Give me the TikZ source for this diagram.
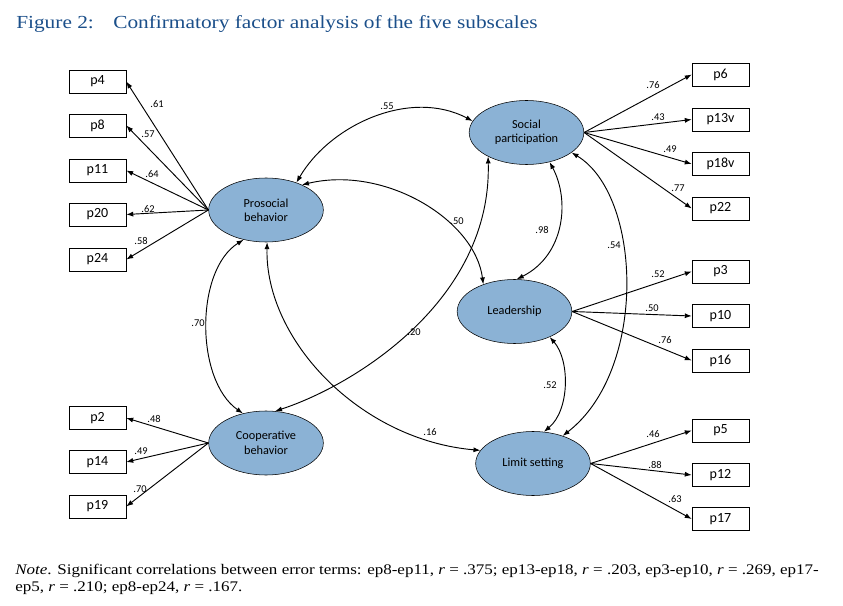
\documentclass[tikz,border=0pt]{standalone}
\usepackage{fontspec}
\setmainfont{Liberation Serif}[FakeStretch=1.16]
\setsansfont{Carlito}
\usepackage{xcolor}
\definecolor{figblue}{HTML}{1B4F8A}
\definecolor{latent}{HTML}{8BB2D5}
\usetikzlibrary{arrows.meta,shapes.geometric}
\tikzset{
  >={Latex[length=5.2pt,width=3.8pt]},
  item/.style  ={draw,fill=white,font=\sffamily\fontsize{10.5}{12}\selectfont,
                 minimum width=42.75pt,minimum height=17.25pt,inner sep=0pt},
  factor/.style={draw,fill=latent,ellipse,align=center,inner sep=0pt,
                 font=\sffamily\fontsize{9.2}{10.8}\selectfont,
                 minimum width=86pt,minimum height=48pt},
  lbl/.style   ={font=\sffamily\fontsize{7.8}{9}\selectfont,inner sep=1pt},
  load/.style  ={->,line width=0.7pt},
  corr/.style  ={<->,line width=0.7pt},
  caption/.style={anchor=base west,inner sep=0pt},
}

\begin{document}
\begin{tikzpicture}[x=0.75pt,y=-0.75pt]
\path[fill=white] (0,0) rectangle (843,606);
\useasboundingbox (0,0) rectangle (843,606);
\node[caption,text=figblue,font=\fontsize{13.8}{16}\selectfont] (fig) at (16,28.3) {Figure 2:};
\node[caption,text=figblue,font=\fontsize{13.8}{16}\selectfont] (title) at (113,28.3)
  {Confirmatory factor analysis of the five subscales};
% observed indicators
\foreach \n/\y in {p4/81.5,p8/125.5,p11/170.5,p20/214.5,p24/259.5,p2/418,p14/462,p19/506.5}
  \node[item] (\n) at (97.5,\y) {\n};
\foreach \n/\y in {p6/74.5,p13v/119.5,p18v/164,p22/208.5,p3/271.5,p10/316,p16/360.5,
                   p5/430.5,p12/475,p17/519}
  \node[item] (\n) at (720.5,\y) {\n};
% latent factors
\node[factor] (pro)  at (266,210)     {Prosocial\\behavior};
\node[factor] (soc)  at (526.5,132.5) {Social\\participation};
\node[factor] (lead) at (514.5,311.5) {Leadership};
\node[factor] (coop) at (266,443)     {Cooperative\\behavior};
\node[factor] (lim)  at (533,463.5)   {Limit setting};
% loadings
\foreach \n in {p4,p8,p11,p20,p24} \draw[load] (pro.west) -- (\n.east);
\foreach \n in {p2,p14,p19} \draw[load] (coop.west) -- (\n.east);
\foreach \n in {p6,p13v,p18v,p22} \draw[load] (soc.east) -- (\n.west);
\foreach \n in {p3,p10,p16} \draw[load] (lead.east) -- (\n.west);
\foreach \n in {p5,p12,p17} \draw[load] (lim.east) -- (\n.west);
\foreach \v/\x/\y [count=\i] in {.61/157/104,.57/148/134,.64/152/174,.62/148/209,.58/141/241,
    .48/154/419,.49/141/451,.70/140/489,.76/653/85,.43/658/117,.49/670/149,.77/678/188,
    .52/658/274,.50/652/308,.76/665/340,.46/653/434,.88/655/465,.63/675/499}
  \node[lbl] (w\i) at (\x,\y) {\v};
% factor correlations
\draw[corr] (pro.42) .. controls (330,125) and (410,88) .. (soc.168);
\draw[corr] (pro.35) .. controls (385,165) and (475,220) .. (lead.139);
\draw[corr] (soc.308) .. controls (570,200) and (565,255) .. (lead.86);
\draw[corr] (soc.336) .. controls (642,195) and (648,370) .. (lim.43);
\draw[corr] (lead.324) .. controls (570,360) and (570,410) .. (lim.71);
\draw[corr] (pro.233) .. controls (195,270) and (195,380) .. (coop.128);
\draw[corr] (soc.212) .. controls (492,300) and (355,385) .. (coop.74);
\draw[corr] (pro.272) .. controls (265,340) and (360,440) .. (lim.166);
\foreach \v/\x/\y [count=\i] in {.55/387/106,.50/457/221,.98/542/230,.54/614/245,
    .52/550/385,.70/198/323,.20/414/332,.16/430/432}
  \node[lbl] (r\i) at (\x,\y) {\v};
% note
\node[caption,font=\fontsize{11}{13}\selectfont] (note1) at (15,574)
  {\textit{Note}. Significant correlations between error terms: ep8-ep11, \textit{r} = .375;
   ep13-ep18, \textit{r} = .203, ep3-ep10, \textit{r} = .269, ep17-};
\node[caption,font=\fontsize{11}{13}\selectfont] (note2) at (15,591)
  {ep5, \textit{r} = .210; ep8-ep24, \textit{r} = .167.};
\end{tikzpicture}
\end{document}
